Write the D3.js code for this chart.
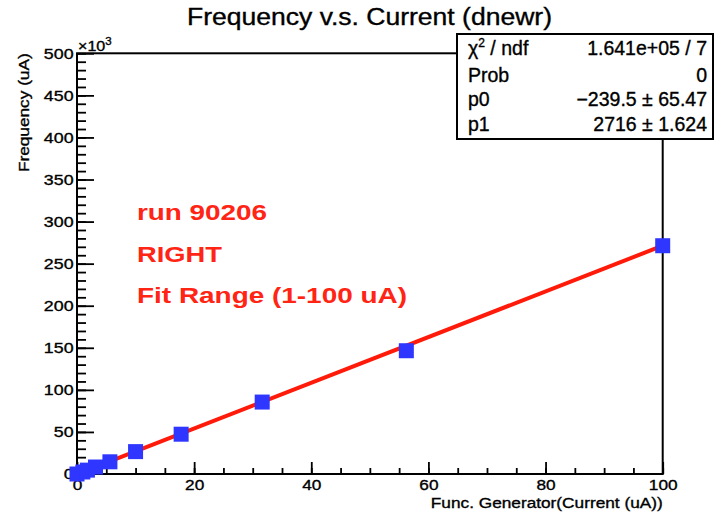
<!DOCTYPE html>
<html>
<head>
<meta charset="utf-8">
<script src="https://cdn.jsdelivr.net/npm/d3@7"></script>
<style>
  html, body { margin: 0; padding: 0; background: #fff; }
  svg { display: block; font-family: "Liberation Sans", Arial, Helvetica, sans-serif; }
  .ink { stroke: #000; stroke-width: 0.35px; paint-order: fill; }
</style>
</head>
<body>
<svg id="chart" width="717" height="517"></svg>
<script>
// Measured current (uA) and frequency (x10^3)
const currents = [0, 1, 1.78, 3.16, 5.62, 10, 17.78, 31.62, 56.23, 100];
const frequencies = [0, 2.4, 4.6, 8.3, 14.5, 26.6, 47.3, 85.5, 146.5, 271.3];

// Linear fit f(x) = p0 + p1 * x over the fit range (frequency in Hz)
const fitParams = { p0: -239.5, p1: 2716 };
const fitRange = [1, 100];

// Axis ticks
const xMajor = [0, 20, 40, 60, 80, 100];
const xMinor = d3.range(0, 101, 5);
const yMajor = [0, 50, 100, 150, 200, 250, 300, 350, 400, 450, 500];
const yMinor = d3.range(0, 501, 10);

// Text
const titleText = "Frequency v.s. Current (dnewr)";
const xTitle = "Func. Generator(Current (uA))";
const yTitle = "Frequency (uA)";
const noteLines = ["run 90206", "RIGHT", "Fit Range (1-100 uA)"];
const statRows = [
  { label: ["\u03C7", "2", " / ndf"], value: "1.641e+05 / 7" },
  { label: ["Prob"], value: "0" },
  { label: ["p0"], value: "\u2212239.5 \u00B1 65.47" },
  { label: ["p1"], value: "2716 \u00B1 1.624" }
];

const svg = d3.select("#chart");
const frame = { left: 77, right: 662.7, top: 53.3, bottom: 474 };
const stretch = 1.15;

const x = d3.scaleLinear().domain([0, 100]).range([frame.left, frame.right]);
const y = d3.scaleLinear().domain([0, 500]).range([frame.bottom, frame.top]);

// Frame
svg.append("rect")
  .attr("x", frame.left).attr("y", frame.top)
  .attr("width", frame.right - frame.left).attr("height", frame.bottom - frame.top)
  .attr("fill", "none").attr("stroke", "#000").attr("stroke-width", 2);

// Minor ticks
svg.append("g").attr("transform", `translate(${frame.left},0)`)
  .call(d3.axisLeft(y).tickValues(yMinor).tickSizeInner(-9).tickSizeOuter(0).tickFormat(""))
  .call(g => g.select(".domain").remove())
  .call(g => g.selectAll("line").attr("stroke-width", 1.8));
svg.append("g").attr("transform", `translate(0,${frame.bottom})`)
  .call(d3.axisBottom(x).tickValues(xMinor).tickSizeInner(-6).tickSizeOuter(0).tickFormat(""))
  .call(g => g.select(".domain").remove())
  .call(g => g.selectAll("line").attr("stroke-width", 1.8));

// Major ticks and labels
const yAxis = svg.append("g").attr("transform", `translate(${frame.left},0)`)
  .call(d3.axisLeft(y).tickValues(yMajor).tickSizeInner(-17).tickSizeOuter(0).tickPadding(3))
  .call(g => g.select(".domain").remove());
yAxis.selectAll("line").attr("stroke-width", 1.8);
yAxis.selectAll("text")
  .attr("class", "ink")
  .attr("font-size", 15.5).attr("fill", "#000")
  .attr("font-family", "Liberation Sans, Arial, sans-serif")
  .attr("transform", `scale(${stretch},1)`);

const xAxis = svg.append("g").attr("transform", `translate(0,${frame.bottom})`)
  .call(d3.axisBottom(x).tickValues(xMajor).tickSizeInner(-12).tickSizeOuter(0).tickPadding(5))
  .call(g => g.select(".domain").remove());
xAxis.selectAll("line").attr("stroke-width", 1.8);
xAxis.selectAll("text")
  .attr("class", "ink")
  .attr("font-size", 15).attr("fill", "#000")
  .attr("font-family", "Liberation Sans, Arial, sans-serif")
  .attr("transform", `scale(${stretch},1)`);

// Exponent marker on the y axis
const expo = svg.append("text")
  .attr("class", "ink")
  .attr("transform", `translate(${frame.left + 1},51) scale(${stretch},1)`)
  .attr("font-size", 14);
expo.append("tspan").text("\u00D710");
expo.append("tspan").attr("font-size", 10).attr("dy", -6).text("3");

// Axis titles
svg.append("text")
  .attr("class", "ink")
  .attr("transform", `translate(${frame.right},508) scale(${stretch},1)`)
  .attr("text-anchor", "end").attr("font-size", 15)
  .text(xTitle);
svg.append("text")
  .attr("class", "ink")
  .attr("transform", `translate(29,${frame.top}) rotate(-90) scale(${stretch},1)`)
  .attr("text-anchor", "end").attr("font-size", 15)
  .text(yTitle);

// Title
svg.append("text")
  .attr("class", "ink")
  .attr("x", 187).attr("y", 25)
  .attr("font-size", 23.5)
  .attr("textLength", 365).attr("lengthAdjust", "spacingAndGlyphs")
  .text(titleText);

// Fit line
const fitLine = d3.line()
  .x(d => x(d))
  .y(d => y((fitParams.p0 + fitParams.p1 * d) / 1000));
svg.append("path")
  .datum(fitRange)
  .attr("d", fitLine)
  .attr("fill", "none").attr("stroke", "#ff1a0a").attr("stroke-width", 4);

// Data markers
const marker = 15;
svg.append("g").selectAll("rect")
  .data(currents.map((c, i) => ({ c, f: frequencies[i] })))
  .join("rect")
  .attr("x", d => x(d.c) - marker / 2)
  .attr("y", d => y(d.f) - marker / 2)
  .attr("width", marker).attr("height", marker)
  .attr("fill", "#2f36ff");

// Annotation text
const noteWidths = [130, 85, 270];
svg.append("g").selectAll("text")
  .data(noteLines)
  .join("text")
  .attr("x", 137)
  .attr("y", (d, i) => 220 + i * 41.5)
  .attr("font-size", 22.5).attr("font-weight", "bold")
  .attr("fill", "#ff2414")
  .attr("textLength", (d, i) => noteWidths[i]).attr("lengthAdjust", "spacingAndGlyphs")
  .text(d => d);

// Fit statistics box
const box = { left: 457, top: 34, right: 713, bottom: 139 };
svg.append("rect")
  .attr("x", box.left).attr("y", box.top)
  .attr("width", box.right - box.left).attr("height", box.bottom - box.top)
  .attr("fill", "#fff").attr("stroke", "#000").attr("stroke-width", 2);

const rowBase = [55, 82, 106, 131];
const stats = svg.append("g").attr("font-size", 19.5);
statRows.forEach((r, i) => {
  const t = stats.append("text").attr("class", "ink").attr("x", 468).attr("y", rowBase[i]);
  if (r.label.length === 3) {
    t.append("tspan").text(r.label[0]);
    t.append("tspan").attr("font-size", 12).attr("dy", -8).text(r.label[1]);
    t.append("tspan").attr("dy", 8).text(r.label[2]);
  } else {
    t.text(r.label[0]);
  }
  stats.append("text")
    .attr("class", "ink")
    .attr("x", 707).attr("y", rowBase[i])
    .attr("text-anchor", "end")
    .text(r.value);
});
</script>
</body>
</html>
